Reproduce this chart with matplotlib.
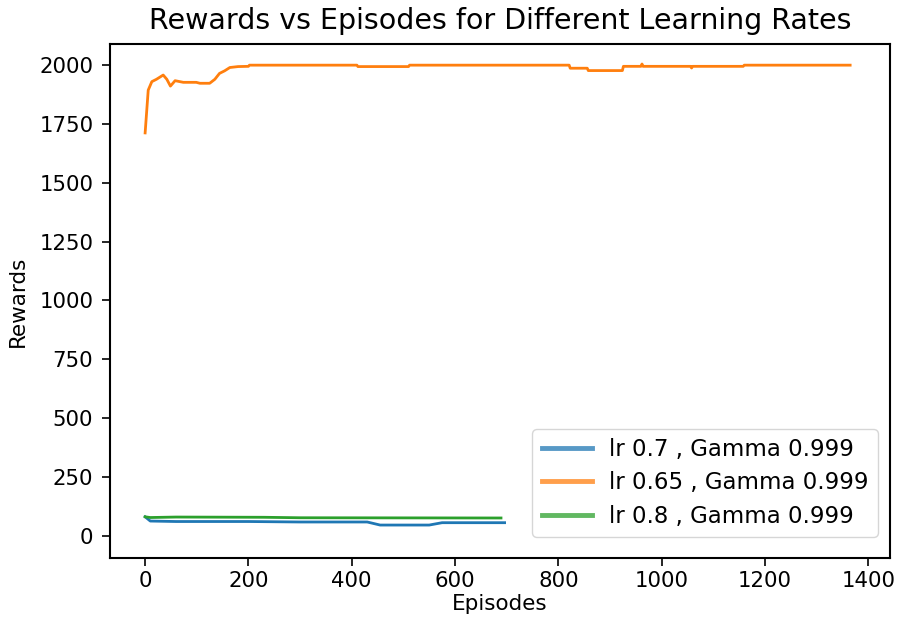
import matplotlib
matplotlib.use("Agg")
import matplotlib.pyplot as plt
from matplotlib.lines import Line2D

# lr 0.65 (orange) - keypoints
ep_065 = [0, 6, 13, 22, 35, 42, 49, 58, 74, 99, 106, 125, 135, 144, 154, 164, 180, 200, 202,
          410, 412, 510, 512, 821, 823, 856, 858, 924, 926, 960, 962, 964, 1056, 1058, 1060,
          1158, 1160, 1365]
rw_065 = [1712, 1894, 1930, 1940, 1958, 1940, 1911, 1934, 1927, 1927, 1923, 1923, 1940, 1965,
          1976, 1990, 1994, 1995, 2000, 2000, 1994, 1994, 2000, 2000, 1987, 1987, 1977, 1977,
          1995, 1995, 2005, 1995, 1995, 1988, 1995, 1995, 2000, 2000]

# lr 0.7 (blue)
ep_07 = [0, 10, 60, 200, 300, 430, 455, 550, 575, 696]
rw_07 = [80, 62, 60, 60, 58, 58, 45, 45, 55, 55]

# lr 0.8 (green)
ep_08 = [0, 10, 60, 230, 300, 689]
rw_08 = [80, 77, 79, 78, 76, 75]

labels = ["lr 0.7 , Gamma 0.999", "lr 0.65 , Gamma 0.999", "lr 0.8 , Gamma 0.999"]
colors = ["#1f77b4", "#ff7f0e", "#2ca02c"]

fig = plt.figure(figsize=(8.98, 6.24), dpi=100)
ax = fig.add_axes([0.1225, 0.1058, 0.8685, 0.8237])

ax.plot(ep_07, rw_07, color=colors[0], lw=2)
ax.plot(ep_065, rw_065, color=colors[1], lw=2)
ax.plot(ep_08, rw_08, color=colors[2], lw=2)

ax.set_xlim(-68, 1442)
ax.set_ylim(-95, 2090)
ax.set_xticks([0, 200, 400, 600, 800, 1000, 1200, 1400])
ax.set_yticks([0, 250, 500, 750, 1000, 1250, 1500, 1750, 2000])
ax.tick_params(labelsize=15.3, length=6, width=1.2)
ax.tick_params(axis="y", pad=6)
for s in ax.spines.values():
    s.set_linewidth(1.5)

ax.set_title("Rewards vs Episodes for Different Learning Rates", fontsize=20.5, pad=11)
ax.set_xlabel("Episodes", fontsize=15.5, labelpad=2)
ax.set_ylabel("Rewards", fontsize=15.5, labelpad=8)

handles = [Line2D([0], [0], color=c, lw=3.5, alpha=0.75) for c in colors]
ax.legend(handles, labels, loc="lower right", fontsize=16.5, handlelength=2.2,
          handletextpad=0.75, labelspacing=0.45,
          bbox_to_anchor=(0.9846, 0.041), borderaxespad=0.0)

fig.savefig("out.png", dpi=100)
